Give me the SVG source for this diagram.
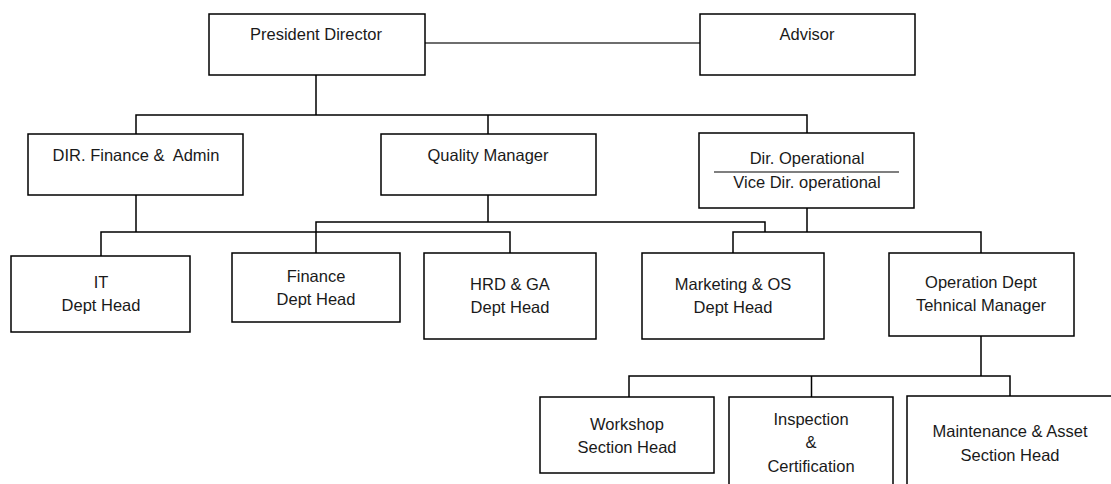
<svg xmlns="http://www.w3.org/2000/svg" width="1111" height="484" viewBox="0 0 1111 484">
<style>
.box{fill:#fff;stroke:#000;stroke-width:1.5}
.t{font-family:"Liberation Sans",Arial,sans-serif;font-size:16.5px;fill:#1a1a1a;text-anchor:middle}
.c{fill:none;stroke:#000;stroke-width:1.5}
.g{fill:none;stroke:#6e6e6e;stroke-width:2}
</style>
<rect width="1111" height="484" fill="#fff"/>
<g id="connectors">
<path class="g" d="M425 43 H700"/>
<path class="c" d="M316 75 V115 M136 134 V115 H807 V133 M488 115 V134"/>
<path class="c" d="M136 195 V232 M101 256 V232 H510 V253"/>
<path class="c" d="M488 195 V222 M316 253 V222 H765 V232"/>
<path class="c" d="M807 208 V232 M733 253 V232 H981 V253"/>
<path class="c" d="M981 336 V376 M629 397 V376 H1010 V396 M811.5 376 V397"/>
</g>
<g id="president"><rect class="box" x="209" y="14" width="216" height="61"/><text class="t" x="316" y="40">President Director</text></g>
<g id="advisor"><rect class="box" x="700" y="14" width="215" height="61"/><text class="t" x="807" y="40">Advisor</text></g>
<g id="dir-finance"><rect class="box" x="28" y="134" width="215" height="61"/><text class="t" x="136" y="161" xml:space="preserve" style="white-space:pre">DIR. Finance &amp;  Admin</text></g>
<g id="quality"><rect class="box" x="381" y="134" width="215" height="61"/><text class="t" x="488" y="161">Quality Manager</text></g>
<g id="dir-operational"><rect class="box" x="699" y="133" width="215" height="75"/><text class="t" x="807" y="164">Dir. Operational</text><line x1="714" y1="172" x2="899" y2="172" stroke="#000" stroke-width="1.2"/><text class="t" x="807" y="188">Vice Dir. operational</text></g>
<g id="it"><rect class="box" x="11" y="256" width="179" height="76"/><text class="t" x="101" y="288">IT</text><text class="t" x="101" y="311">Dept Head</text></g>
<g id="finance"><rect class="box" x="232" y="253" width="168" height="69"/><text class="t" x="316" y="282">Finance</text><text class="t" x="316" y="305">Dept Head</text></g>
<g id="hrd"><rect class="box" x="424" y="253" width="172" height="86"/><text class="t" x="510" y="290">HRD &amp; GA</text><text class="t" x="510" y="313">Dept Head</text></g>
<g id="marketing"><rect class="box" x="642" y="253" width="182" height="86"/><text class="t" x="733" y="290">Marketing &amp; OS</text><text class="t" x="733" y="313">Dept Head</text></g>
<g id="operation"><rect class="box" x="889" y="253" width="185" height="83"/><text class="t" x="981" y="288">Operation Dept</text><text class="t" x="981" y="311">Tehnical Manager</text></g>
<g id="workshop"><rect class="box" x="540" y="397" width="174" height="76"/><text class="t" x="627" y="430">Workshop</text><text class="t" x="627" y="453">Section Head</text></g>
<g id="inspection"><rect class="box" x="729" y="397" width="164" height="100"/><text class="t" x="811" y="425">Inspection</text><text class="t" x="811" y="448">&amp;</text><text class="t" x="811" y="472">Certification</text></g>
<g id="maintenance"><rect class="box" x="907" y="396" width="210" height="100"/><text class="t" x="1010" y="437">Maintenance &amp; Asset</text><text class="t" x="1010" y="461">Section Head</text></g>
</svg>
